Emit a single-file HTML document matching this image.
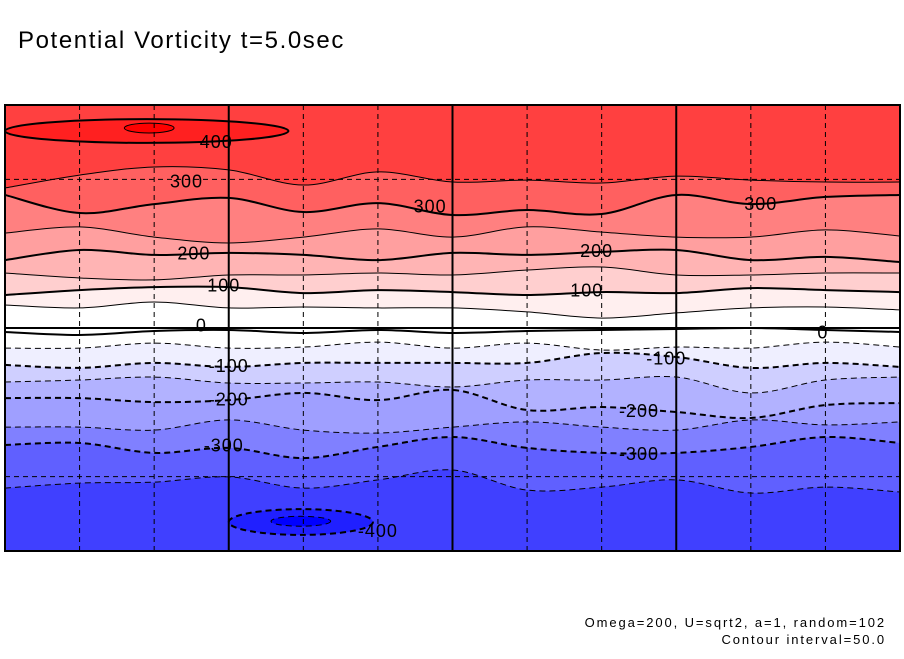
<!DOCTYPE html>
<html><head><meta charset="utf-8"><style>
body{margin:0;background:#fff;width:904px;height:654px;overflow:hidden;font-family:"Liberation Sans",sans-serif}
</style></head><body>
<svg id="chart" width="904" height="654" xmlns="http://www.w3.org/2000/svg">
<text x="18" y="48" font-family="Liberation Sans, sans-serif" font-size="24" letter-spacing="1.6" fill="#000">Potential Vorticity t=5.0sec</text>
<text x="886" y="627" text-anchor="end" font-family="Liberation Sans, sans-serif" font-size="13" letter-spacing="1.9" fill="#000">Omega=200, U=sqrt2, a=1, random=102</text>
<text x="886" y="644" text-anchor="end" font-family="Liberation Sans, sans-serif" font-size="13" letter-spacing="1.9" fill="#000">Contour interval=50.0</text>
<g id="plot"></g>
</svg>
<script>
// ---- data ----
const lons = [0,30,60,90,120,150,180,210,240,270,300,330,360];
const levels = [350,300,250,200,150,100,50,0,-50,-100,-150,-200,-250,-300,-350];
const lat350 = [56.5,61.7,65.0,63.8,57.7,63.0,58.9,59.7,58.5,61.3,59.7,58.9,58.9];
const lat300 = [53.7,46.4,50.0,52.5,46.8,50.4,45.6,47.6,46.0,53.7,50.0,52.9,53.7];
const lat250 = [38.3,40.8,36.7,34.3,36.7,40.0,36.7,40.8,38.7,36.7,36.7,39.6,37.1];
const lat200 = [27.4,31.5,29.5,30.3,29.5,27.4,30.3,29.5,30.7,31.5,27.4,28.7,26.6];
const lat150 = [22.2,20.2,19.4,21.4,21.4,22.2,21.4,23.4,24.6,21.4,21.4,22.2,22.2];
const lat100 = [13.3,15.3,16.5,16.5,14.1,15.3,14.5,13.3,14.5,14.1,16.1,15.3,14.5];
const lat50 = [9.3,8.1,10.5,8.1,8.5,8.1,8.1,6.5,4.0,6.1,8.1,8.5,7.3];
const lat0 = [-1.6,-2.8,-1.2,-0.8,-2.0,-0.8,-2.0,-1.2,-0.8,-0.4,0,-0.8,-1.6];
const latm50 = [-8.1,-8.1,-6.1,-8.1,-7.7,-5.7,-8.1,-6.1,-8.9,-7.7,-8.1,-5.7,-7.7];
const latm100 = [-14.9,-16.1,-14.1,-15.7,-14.1,-14.1,-14.1,-14.1,-10.1,-11.7,-16.1,-14.1,-15.7];
const latm150 = [-21.8,-21.0,-19.8,-22.2,-22.2,-21.8,-23.8,-21.0,-21.0,-19.8,-26.2,-21.0,-19.8];
const latm200 = [-28.3,-28.3,-29.9,-29.1,-26.2,-29.1,-25.0,-33.1,-31.9,-33.9,-36.3,-31.1,-30.3];
const latm250 = [-40.0,-40.0,-41.2,-37.1,-41.2,-42.4,-40.0,-37.9,-40.0,-41.2,-37.1,-39.1,-37.9];
const latm300 = [-47.2,-46.4,-50.4,-48.4,-52.5,-48.0,-44.0,-48.4,-50.4,-50.4,-48.0,-44.0,-46.4];
const latm350 = [-64.6,-62.6,-62.2,-60.1,-64.6,-61.3,-57.3,-65.4,-64.2,-61.3,-66.6,-64.2,-66.2];
const contourLats = [lat350,lat300,lat250,lat200,lat150,lat100,lat50,lat0,latm50,latm100,latm150,latm200,latm250,latm300,latm350];
const bandColors = ["#FF6060","#FF8080","#FF9F9F","#FFB4B4","#FFCFCF","#FFEFEF","#FFFFFF","#FFFFFF","#EFEFFF","#CFCFFF","#B2B2FF","#9F9FFF","#8080FF","#6060FF","#4040FF"];
const topColor = "#FF4040";
const patchLevels = [400,450,-400,-450];
const patchLon = [57,58,119,119];
const patchLat = [79.5,80.7,-78.3,-78.0];
const patchLonR = [57,10,29,12];
const patchLatR = [4.8,2,5.2,2];
const patchColors = ["#FF2020","#FF0000","#2020FF","#0000FF"];
const labelText = ["400","300","300","300","200","200","100","100","0","0","-100","-100","-200","-200","-300","-300","-400"];
const labelLon = [85,73,171,304,76,238,88,234,79,329,90,266,90,255,88,255,150];
const labelLat = [75.5,59.5,49.5,50.5,30.5,31.5,17.5,15.5,1.5,-1.5,-15.0,-12.0,-28.5,-33.0,-47.0,-50.5,-81.5];

// ---- axes ----
const X0=5,X1=900,Y0=105,Y1=551;
const xs = lon => X0 + (lon/360)*(X1-X0);
const ys = lat => Y0 + ((90-lat)/180)*(Y1-Y0);
const NS="http://www.w3.org/2000/svg";
const plot=document.getElementById('plot');
function mk(tag,attrs){const e=document.createElementNS(NS,tag);for(const k in attrs)e.setAttribute(k,attrs[k]);plot.appendChild(e);return e;}

function curve(lats){
  const p=lons.map((l,i)=>[xs(l),ys(lats[i])]);
  let d="M"+p[0][0]+","+p[0][1];
  for(let i=0;i<p.length-1;i++){
    const p0=p[Math.max(0,i-1)],p1=p[i],p2=p[i+1],p3=p[Math.min(p.length-1,i+2)];
    const c1=[p1[0]+(p2[0]-p0[0])/6,p1[1]+(p2[1]-p0[1])/6];
    const c2=[p2[0]-(p3[0]-p1[0])/6,p2[1]-(p3[1]-p1[1])/6];
    d+=" C"+c1[0]+","+c1[1]+" "+c2[0]+","+c2[1]+" "+p2[0]+","+p2[1];
  }
  return d;
}

let bg=mk('rect',{x:X0,y:Y0,width:X1-X0,height:Y1-Y0,fill:topColor});


levels.forEach((lv,i)=>{
  const e=mk('path',{d:curve(contourLats[i])+" L"+X1+","+Y1+" L"+X0+","+Y1+" Z",fill:bandColors[i]});
  
  
});
patchLevels.forEach((lv,i)=>{
  const e=mk('ellipse',{cx:xs(patchLon[i]),cy:ys(patchLat[i]),rx:xs(patchLonR[i])-X0,ry:ys(90-patchLatR[i])-Y0,fill:patchColors[i],stroke:"#000","stroke-width":Math.abs(lv)%100===0?2:1,"stroke-dasharray":lv<0?"6,4":"none"});
  
  
});
levels.forEach((lv,i)=>{
  const e=mk('path',{d:curve(contourLats[i]),fill:"none",stroke:"#000","stroke-width":lv%100===0?2:1,"stroke-dasharray":lv<0?"6,4":"none"});
  
  
});
for(let lon=30;lon<360;lon+=30){
  const solid=lon%90===0;
  const e=mk('line',{x1:xs(lon),x2:xs(lon),y1:Y0,y2:Y1,stroke:"#000","stroke-width":solid?2:1,"stroke-dasharray":solid?"none":"5,4"});
  
  
}
[60,0,-60].forEach(lat=>{
  const solid=lat===0;
  const e=mk('line',{x1:X0,x2:X1,y1:ys(lat),y2:ys(lat),stroke:"#000","stroke-width":solid?2:1,"stroke-dasharray":solid?"none":"5,4"});
  
  
});
labelText.forEach((t,i)=>{
  const e=mk('text',{x:xs(labelLon[i]),y:ys(labelLat[i])+7,"text-anchor":"middle","font-size":18,"letter-spacing":1,"font-family":"Liberation Sans, sans-serif",fill:"#000"});
  e.textContent=t;
  
  
});
const fr=mk('rect',{x:X0,y:Y0,width:X1-X0,height:Y1-Y0,fill:"none",stroke:"#000","stroke-width":2});


</script>
</body></html>
